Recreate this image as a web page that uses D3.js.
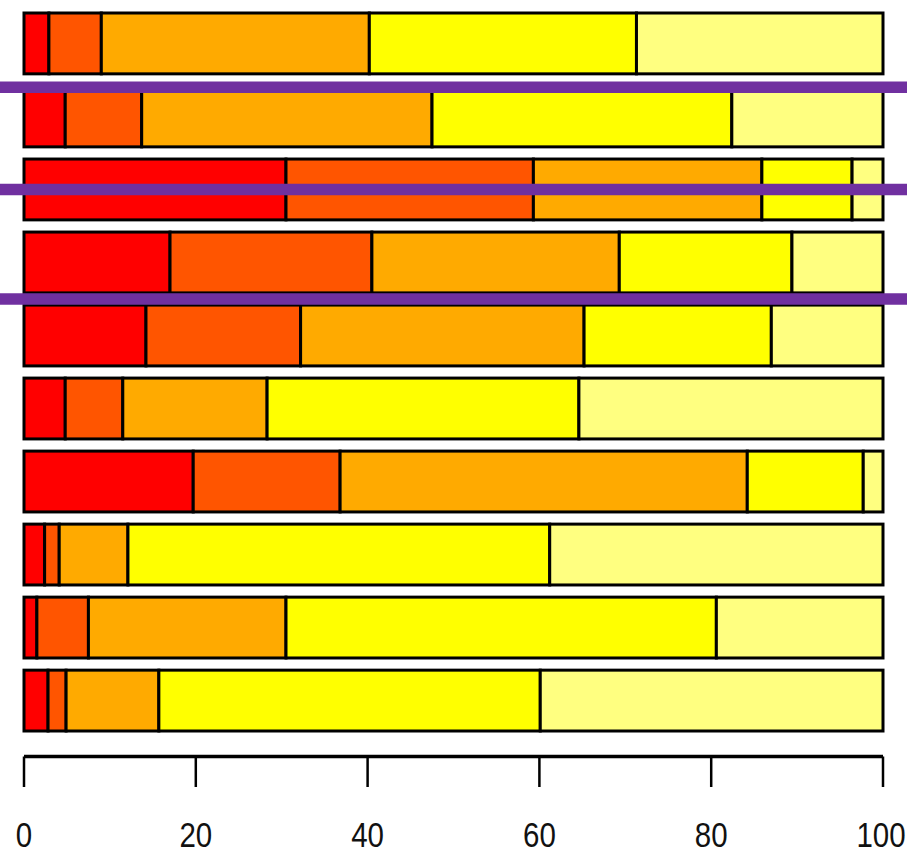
<!DOCTYPE html>
<html>
<head>
<meta charset="utf-8">
<script src="https://cdn.jsdelivr.net/npm/d3@7"></script>
<style>
  html, body { margin: 0; padding: 0; background: #fff; }
  svg { display: block; }
  .tick-label { font-family: "Liberation Sans", Arial, sans-serif; font-size: 36px; fill: #111; }
</style>
</head>
<body>
<svg id="chart" width="907" height="855"></svg>
<script>
// rows from top to bottom
const categories = ["1", "2", "3", "4", "5", "6", "7", "8", "9", "10"];
const levels = ["c1", "c2", "c3", "c4", "c5"];

// share of each level in each row (%)
const c1 = [2.9, 4.8, 30.5, 17.0, 14.2, 4.8, 19.7, 2.4, 1.5, 2.8];
const c2 = [6.1, 8.9, 28.8, 23.5, 18.0, 6.7, 17.1, 1.7, 6.0, 2.1];
const c3 = [31.2, 33.8, 26.6, 28.8, 33.0, 16.8, 47.4, 8.0, 23.0, 10.8];
const c4 = [31.1, 34.9, 10.5, 20.1, 21.8, 36.3, 13.5, 49.1, 50.1, 44.4];
const c5 = [28.7, 17.6, 3.6, 10.6, 13.0, 35.4, 2.3, 38.8, 19.4, 39.9];

const colors = ["#FF0000", "#FF5500", "#FFAA00", "#FFFF00", "#FFFF80"];

// horizontal marker lines, in row units (0 = centre of top row)
const markerRows = [0.6, 2.0, 3.5];

const xTicks = [0, 20, 40, 60, 80, 100];

const svg = d3.select("#chart");

const x = d3.scaleLinear().domain([0, 100]).range([24, 883]);
const y = d3.scaleBand().domain(categories).range([13, 731])
  .paddingInner(0.2 / 1.2).paddingOuter(0);

// row-unit scale for the marker lines
const step = y.step();
const yRow = d3.scaleLinear().domain([0, 1])
  .range([y(categories[0]) + y.bandwidth() / 2, y(categories[0]) + y.bandwidth() / 2 + step]);

const table = categories.map((c, i) => ({
  cat: c, c1: c1[i], c2: c2[i], c3: c3[i], c4: c4[i], c5: c5[i]
}));

const stacked = d3.stack().keys(levels)(table);

// bars
svg.append("g")
  .selectAll("g")
  .data(stacked)
  .join("g")
  .attr("fill", (d, i) => colors[i])
  .selectAll("rect")
  .data(d => d)
  .join("rect")
  .attr("x", d => x(d[0]))
  .attr("y", d => y(d.data.cat))
  .attr("width", d => x(d[1]) - x(d[0]))
  .attr("height", y.bandwidth())
  .attr("stroke", "#000")
  .attr("stroke-width", 3);

// purple lines across the whole picture
svg.append("g")
  .selectAll("line")
  .data(markerRows)
  .join("line")
  .attr("x1", 0)
  .attr("x2", 907)
  .attr("y1", d => yRow(d))
  .attr("y2", d => yRow(d))
  .attr("stroke", "#7030A0")
  .attr("stroke-width", 11.5);

// x axis (drawn by hand to get R-like look)
const axisY = 756.5;
const ax = svg.append("g");
ax.append("line")
  .attr("x1", x(0)).attr("x2", x(100))
  .attr("y1", axisY).attr("y2", axisY)
  .attr("stroke", "#000").attr("stroke-width", 3.5);

ax.selectAll("line.tk")
  .data(xTicks)
  .join("line")
  .attr("class", "tk")
  .attr("x1", d => x(d)).attr("x2", d => x(d))
  .attr("y1", axisY).attr("y2", 787)
  .attr("stroke", "#000").attr("stroke-width", 2.5);

ax.selectAll("text")
  .data(xTicks)
  .join("text")
  .attr("class", "tick-label")
  .attr("text-anchor", "middle")
  .attr("transform", d => `translate(${d === 100 ? x(d) - 2 : x(d)},847) scale(0.82,1)`)
  .text(d => d);
</script>
</body>
</html>
